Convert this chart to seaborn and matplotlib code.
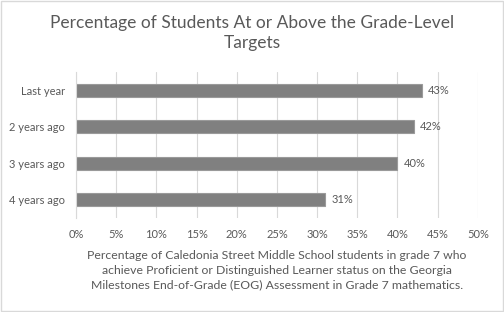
import matplotlib
matplotlib.use("Agg")
import matplotlib.pyplot as plt
import seaborn as sns
import pandas as pd
from matplotlib.ticker import PercentFormatter

periods = ["Last year", "2 years ago", "3 years ago", "4 years ago"]
pct = [43, 42, 40, 31]

df = pd.DataFrame({"period": periods, "pct": pct})

sns.set_style("white")
plt.rcParams["font.family"] = ["Lato", "DejaVu Sans"]
txt = "#595959"

fig = plt.figure(figsize=(5.04, 3.12), dpi=100)
ax = fig.add_axes([0.151, 0.301, 0.797, 0.468])

sns.barplot(data=df, x="pct", y="period", color="#808080", width=0.36,
            edgecolor="#9a9a9a", linewidth=0.8, saturation=1, ax=ax)

for i, v in enumerate(pct):
    ax.text(v + 0.8, i, f"{v}%", va="center", ha="left", fontsize=8, color=txt)

ax.set_xlim(0, 50)
ax.set_ylim(3.5, -0.5)
ax.set_xticks(range(0, 51, 5))
ax.xaxis.set_major_formatter(PercentFormatter(decimals=0))
ax.grid(axis="x", color="#d9d9d9", linewidth=0.8)
ax.set_axisbelow(True)
for s in ["top", "right", "bottom"]:
    ax.spines[s].set_visible(False)
ax.spines["left"].set_color("#d9d9d9")
ax.tick_params(axis="both", length=0, labelsize=8, colors=txt, pad=8)
ax.set_ylabel("")
ax.set_xlabel("Percentage of Caledonia Street Middle School students in grade 7 who\n"
              "achieve Proficient or Distinguished Learner status on the Georgia\n"
              "Milestones End-of-Grade (EOG) Assessment in Grade 7 mathematics.",
              fontsize=8.8, color=txt, linespacing=1.4, labelpad=7)

fig.text(0.5, 0.952, "Percentage of Students At or Above the Grade-Level\nTargets",
         ha="center", va="top", fontsize=12.5, color=txt, linespacing=1.3)

fig.patches.append(plt.Rectangle((0.001, 0.002), 0.997, 0.995, transform=fig.transFigure,
                                 fill=False, edgecolor="#d9d9d9", linewidth=1))

fig.savefig("out.png", dpi=100, facecolor="white")
